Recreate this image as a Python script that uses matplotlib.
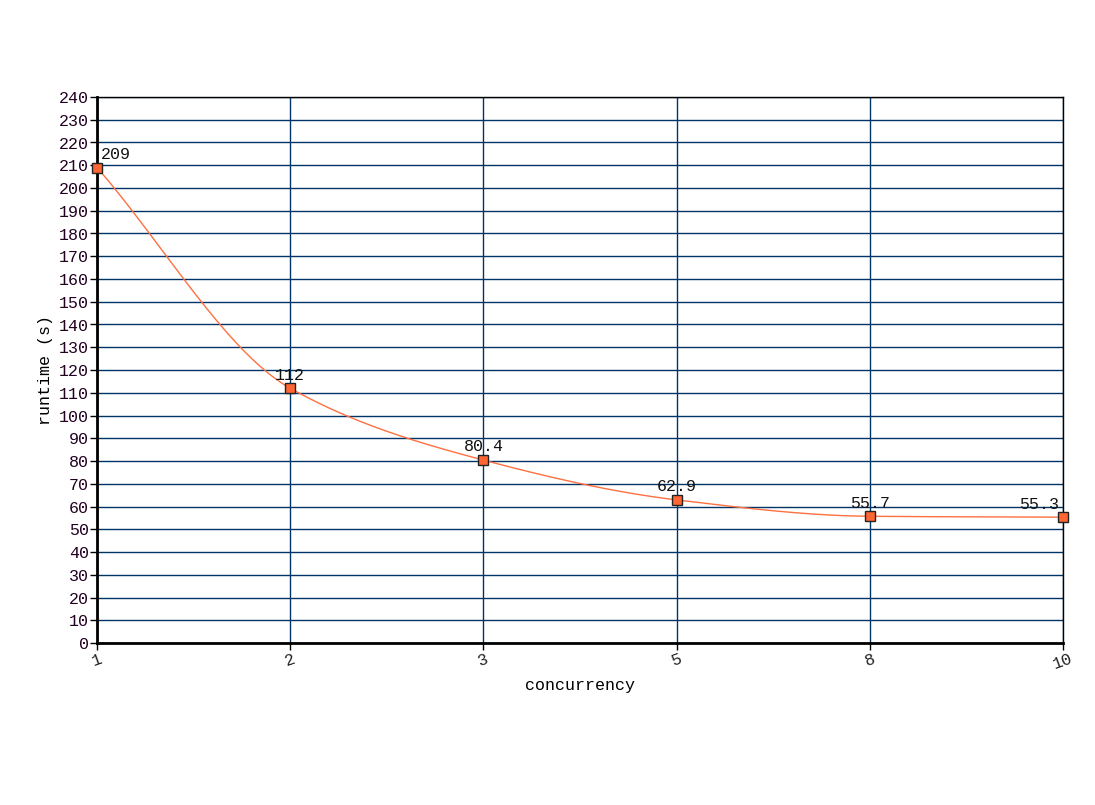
import numpy as np
import matplotlib
matplotlib.use("Agg")
import matplotlib.pyplot as plt

concurrency = ["1", "2", "3", "5", "8", "10"]
runtime = [209, 112, 80.4, 62.9, 55.7, 55.3]
value_labels = ["209", "112", "80.4", "62.9", "55.7", "55.3"]

plt.rcParams['font.family'] = ['Liberation Mono', 'DejaVu Sans Mono']

fig = plt.figure(figsize=(10.95, 8.05), dpi=100)
ax = fig.add_axes([97 / 1095, 1 - 643 / 805, (1063 - 97) / 1095, (643 - 97) / 805])

x = np.arange(len(concurrency))
y = np.array(runtime, dtype=float)


# smooth line through the points (monotone cubic, like the original chart's spline)
def pchip(xk, yk, xs):
    h = np.diff(xk)
    d = np.diff(yk) / h
    m = np.zeros_like(yk)
    for i in range(1, len(yk) - 1):
        if d[i - 1] * d[i] > 0:
            w1 = 2 * h[i] + h[i - 1]
            w2 = h[i] + 2 * h[i - 1]
            m[i] = (w1 + w2) / (w1 / d[i - 1] + w2 / d[i])
    m[0] = d[0]
    m[-1] = d[-1]
    out = np.empty_like(xs)
    for j, xv in enumerate(xs):
        i = min(np.searchsorted(xk, xv, side='right') - 1, len(xk) - 2)
        t = (xv - xk[i]) / h[i]
        h00 = 2 * t**3 - 3 * t**2 + 1
        h10 = t**3 - 2 * t**2 + t
        h01 = -2 * t**3 + 3 * t**2
        h11 = t**3 - t**2
        out[j] = h00 * yk[i] + h10 * h[i] * m[i] + h01 * yk[i + 1] + h11 * h[i] * m[i + 1]
    return out


xs = np.linspace(x[0], x[-1], 400)
ax.plot(xs, pchip(x.astype(float), y, xs), color='#ff7040', lw=1, zorder=3)
ax.plot(x, y, 's', ms=7, mfc='#ff6633', mec='#222222', mew=1, zorder=4, clip_on=False)

fs = 12
for i, (xv, yv, lab) in enumerate(zip(x, y, value_labels)):
    if i == 0:
        ax.text(xv + 0.02, yv + 2.5, lab, ha='left', va='bottom', fontsize=fs, color='#111111')
    elif i == len(x) - 1:
        ax.text(xv - 0.02, yv + 2.5, lab, ha='right', va='bottom', fontsize=fs, color='#111111')
    else:
        ax.text(xv, yv + 2.5, lab, ha='center', va='bottom', fontsize=fs, color='#111111')

ax.set_xlim(x[0], x[-1])
ax.set_ylim(0, 240)
ax.set_yticks(np.arange(0, 241, 10))
ax.set_xticks(x)
ax.set_xticklabels(concurrency, rotation=20, ha='center', fontsize=fs, color='#222222')
ax.tick_params(axis='y', labelsize=fs, labelcolor='#220022', length=5, width=1, pad=1)
ax.tick_params(axis='x', length=5, width=1, pad=1)

ax.grid(True, color='#003366', lw=1)
ax.set_axisbelow(True)
for side in ['left', 'bottom']:
    ax.spines[side].set_linewidth(2)
for side in ['top', 'right']:
    ax.spines[side].set_linewidth(1)

ax.set_xlabel('concurrency', fontsize=fs, labelpad=4)
ax.set_ylabel('runtime (s)', fontsize=fs, labelpad=4)

fig.savefig('out.png', dpi=100)
